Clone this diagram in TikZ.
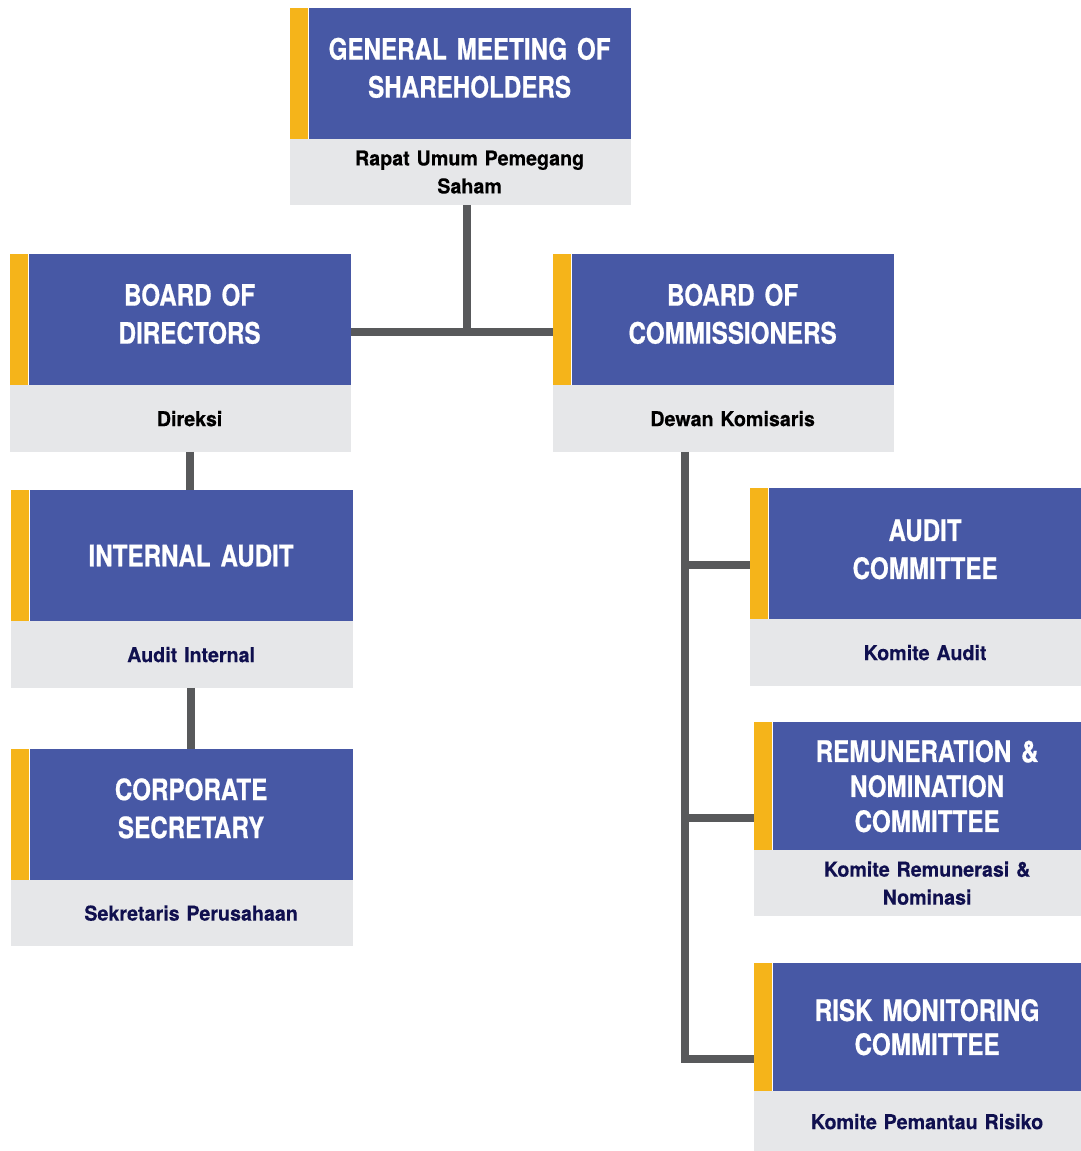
\documentclass[tikz,border=0pt]{standalone}
\usepackage{fontspec}
\usetikzlibrary{positioning,backgrounds}

\newfontfamily\headfont{TeX Gyre Heros}[FakeStretch=0.82, WordSpace=0.5, BoldFeatures={FakeBold=0.6}]
\newfontfamily\subfont{TeX Gyre Heros}[FakeStretch=0.96, WordSpace=0.55, BoldFeatures={FakeBold=0.3}]

\definecolor{boxblue}{HTML}{4758A5}
\definecolor{baryellow}{HTML}{F5B41A}
\definecolor{boxgray}{HTML}{E6E7E9}
\definecolor{linkgray}{HTML}{58595B}
\definecolor{subnavy}{HTML}{10104F}

\tikzset{
    bar/.style={fill=baryellow, inner sep=0pt, minimum width=18pt, anchor=north west},
    head/.style={fill=boxblue, text=white, inner sep=0pt, align=center,
        font=\headfont\bfseries\fontsize{29.5}{38}\selectfont},
    sub/.style={inner sep=0pt, align=center, text=subnavy,
        font=\subfont\bfseries\fontsize{20.5}{28}\selectfont},
    link/.style={draw=linkgray, line width=8pt}
}

\begin{document}
\begin{tikzpicture}[x=1pt, y=-1pt]
    \useasboundingbox (0,0) rectangle (1081,1151);

    % top
    \node[bar, minimum height=131pt] (gmsbar) at (290,8) {};
    \node[head, text width=322pt, minimum height=131pt, text depth=50pt, right=0pt of gmsbar] (gms) {GENERAL MEETING OF\\SHAREHOLDERS};
    \node[sub, text=black, text width=322pt, minimum height=65pt, below=0pt of gms] (gmssub) {Rapat Umum Pemegang\\Saham};

    % left column
    \node[bar, minimum height=131pt] (bodbar) at (10,254) {};
    \node[head, text width=322pt, minimum height=131pt, text depth=50pt, right=0pt of bodbar] (bod) {BOARD OF\\DIRECTORS};
    \node[sub, text=black, text width=322pt, minimum height=66pt, below=0pt of bod] (bodsub) {Direksi};

    \node[bar, minimum height=131pt] (iabar) at (11,490) {};
    \node[head, text width=323pt, minimum height=131pt, right=0pt of iabar] (ia) {INTERNAL AUDIT};
    \node[sub, text width=323pt, minimum height=66pt, below=0pt of ia] (iasub) {Audit Internal};

    \node[bar, minimum height=131pt] (csbar) at (11,749) {};
    \node[head, text width=323pt, minimum height=131pt, text depth=51pt, right=0pt of csbar] (cs) {CORPORATE\\SECRETARY};
    \node[sub, text width=323pt, minimum height=65pt, below=0pt of cs] (cssub) {Sekretaris Perusahaan};

    % right column
    \node[bar, minimum height=131pt] (bocbar) at (553,254) {};
    \node[head, text width=322pt, minimum height=131pt, text depth=50pt, right=0pt of bocbar] (boc) {BOARD OF\\COMMISSIONERS};
    \node[sub, text=black, text width=322pt, minimum height=66pt, below=0pt of boc] (bocsub) {Dewan Komisaris};

    \node[bar, minimum height=131pt] (acbar) at (750,488) {};
    \node[head, text width=313pt, minimum height=131pt, text depth=47pt, right=0pt of acbar] (ac) {AUDIT\\COMMITTEE};
    \node[sub, text width=313pt, minimum height=66pt, below=0pt of ac] (acsub) {Komite Audit};

    \node[bar, minimum height=128pt] (rncbar) at (754,722) {};
    \node[head, text width=309pt, minimum height=128pt, right=0pt of rncbar,
        font=\headfont\bfseries\fontsize{29.5}{35}\selectfont] (rnc) {REMUNERATION \&\\NOMINATION\\COMMITTEE};
    \node[sub, text width=309pt, minimum height=65pt, below=0pt of rnc] (rncsub) {Komite Remunerasi \&\\Nominasi};

    \node[bar, minimum height=128pt] (rmcbar) at (754,963) {};
    \node[head, text width=309pt, minimum height=128pt, right=0pt of rmcbar,
        font=\headfont\bfseries\fontsize{29.5}{34}\selectfont] (rmc) {RISK MONITORING\\COMMITTEE};
    \node[sub, text width=309pt, minimum height=60pt, below=0pt of rmc] (rmcsub) {Komite Pemantau Risiko};

    % connectors
    \coordinate (jn) at (467,332);
    \coordinate (b1) at (685,565);
    \coordinate (b2) at (685,818);
    \coordinate (b3) at (685,1059);
    \begin{scope}[on background layer]
        \fill[boxgray] (gmsbar.south west) rectangle (gmssub.south east);
        \fill[boxgray] (bodbar.south west) rectangle (bodsub.south east);
        \fill[boxgray] (iabar.south west) rectangle (iasub.south east);
        \fill[boxgray] (csbar.south west) rectangle (cssub.south east);
        \fill[boxgray] (bocbar.south west) rectangle (bocsub.south east);
        \fill[boxgray] (acbar.south west) rectangle (acsub.south east);
        \fill[boxgray] (rncbar.south west) rectangle (rncsub.south east);
        \fill[boxgray] (rmcbar.south west) rectangle (rmcsub.south east);

        \draw[link] (gmssub.south -| jn) -- (jn);
        \draw[link] (bod.east |- jn) -- (bocbar.west |- jn);
        \draw[link] (bodsub.south) -- (bodsub.south |- ia.north);
        \draw[link] (iasub.south) -- (iasub.south |- cs.north);
        \draw[link] (bocsub.south -| b1) -- ([yshift=4pt]b3);
        \draw[link] (b1) -- (acbar.west |- b1);
        \draw[link] (b2) -- (rncbar.west |- b2);
        \draw[link] ([xshift=-4pt]b3) -- (rmcbar.west |- b3);
    \end{scope}
\end{tikzpicture}
\end{document}
